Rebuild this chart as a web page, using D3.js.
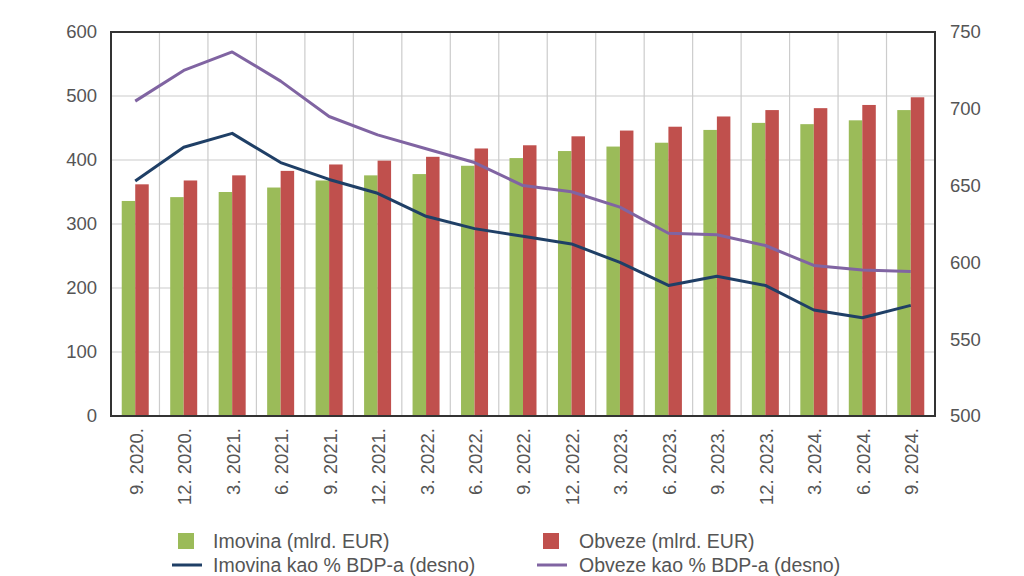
<!DOCTYPE html>
<html>
<head>
<meta charset="utf-8">
<script src="https://cdn.jsdelivr.net/npm/d3@7"></script>
<style>
  html, body { margin: 0; padding: 0; background: #fff; }
  svg { display: block; font-family: "Liberation Sans", Arial, sans-serif; }
</style>
</head>
<body>
<svg id="chart" width="1024" height="576"></svg>
<script>
const categories = ["9. 2020.", "12. 2020.", "3. 2021.", "6. 2021.", "9. 2021.", "12. 2021.",
  "3. 2022.", "6. 2022.", "9. 2022.", "12. 2022.", "3. 2023.", "6. 2023.", "9. 2023.",
  "12. 2023.", "3. 2024.", "6. 2024.", "9. 2024."];
const imovina = [336, 342, 350, 357, 368, 376, 378, 391, 403, 414, 421, 427, 447, 458, 456, 462, 478];
const obveze  = [362, 368, 376, 383, 393, 399, 405, 418, 423, 437, 446, 452, 468, 478, 481, 486, 498];
const imovinaPct = [653, 675, 684, 665, 654, 645, 630, 622, 617, 612, 600, 585, 591, 585, 569, 564, 572];
const obvezePct  = [705, 725, 737, 718, 695, 683, 674, 665, 650, 646, 636, 619, 618, 611, 598, 595, 594];
const leftTicks = [0, 100, 200, 300, 400, 500, 600];
const rightTicks = [500, 550, 600, 650, 700, 750];
const legendItems = [
  {label: "Imovina (mlrd. EUR)", type: "rect", color: "#9bbb59"},
  {label: "Obveze (mlrd. EUR)", type: "rect", color: "#c0504d"},
  {label: "Imovina kao % BDP-a (desno)", type: "line", color: "#1f3f66"},
  {label: "Obveze kao % BDP-a (desno)", type: "line", color: "#8064a2"}
];

const svg = d3.select("#chart");
const L = 111, R = 935, T = 32, B = 416;

const x = d3.scaleBand().domain(categories).range([L, R]).paddingInner(0).paddingOuter(0);
const yL = d3.scaleLinear().domain([0, 600]).range([B, T]);
const yR = d3.scaleLinear().domain([500, 750]).range([B, T]);

const textColor = "#555555";

// grid
const grid = svg.append("g");
grid.selectAll("line.h").data(leftTicks.slice(1, -1)).join("line")
  .attr("x1", L).attr("x2", R).attr("y1", d => yL(d)).attr("y2", d => yL(d))
  .attr("stroke", "#cccccc").attr("stroke-width", 1.2);
grid.selectAll("line.v").data(categories.slice(1)).join("line")
  .attr("x1", d => x(d)).attr("x2", d => x(d)).attr("y1", T).attr("y2", B)
  .attr("stroke", "#cccccc").attr("stroke-width", 1.2);

// bars
const bw = 13.5;
const bars = svg.append("g");
bars.selectAll("rect.g").data(categories).join("rect")
  .attr("x", d => x(d) + x.bandwidth() / 2 - bw)
  .attr("width", bw)
  .attr("y", (d, i) => yL(imovina[i]))
  .attr("height", (d, i) => B - yL(imovina[i]))
  .attr("fill", "#9bbb59");
bars.selectAll("rect.r").data(categories).join("rect")
  .attr("x", d => x(d) + x.bandwidth() / 2)
  .attr("width", bw)
  .attr("y", (d, i) => yL(obveze[i]))
  .attr("height", (d, i) => B - yL(obveze[i]))
  .attr("fill", "#c0504d");

// lines
const line = arr => d3.line()
  .x((d, i) => x(categories[i]) + x.bandwidth() / 2)
  .y(d => yR(d))(arr);
svg.append("path").attr("d", line(obvezePct)).attr("fill", "none")
  .attr("stroke", "#8064a2").attr("stroke-width", 3).attr("stroke-linejoin", "round");
svg.append("path").attr("d", line(imovinaPct)).attr("fill", "none")
  .attr("stroke", "#1f3f66").attr("stroke-width", 3).attr("stroke-linejoin", "round");

// frame
svg.append("rect").attr("x", L).attr("y", T).attr("width", R - L).attr("height", B - T)
  .attr("fill", "none").attr("stroke", "#333333").attr("stroke-width", 2);

// left axis labels
svg.append("g").selectAll("text").data(leftTicks).join("text")
  .attr("x", 97).attr("y", d => yL(d)).attr("dy", "0.35em")
  .attr("text-anchor", "end").attr("font-size", 18.5).attr("fill", textColor)
  .text(d => d);

// right axis labels
svg.append("g").selectAll("text").data(rightTicks).join("text")
  .attr("x", 950).attr("y", d => yR(d)).attr("dy", "0.35em")
  .attr("text-anchor", "start").attr("font-size", 18.5).attr("fill", textColor)
  .text(d => d);

// x labels
svg.append("g").selectAll("text").data(categories).join("text")
  .attr("transform", d => `translate(${x(d) + x.bandwidth() / 2 + 1},428) rotate(-90)`)
  .attr("text-anchor", "end").attr("dy", "0.35em")
  .attr("font-size", 18.5).attr("fill", textColor)
  .text(d => d);

// legend
const legPos = [
  {x: 178, y: 541, tx: 213}, {x: 543, y: 541, tx: 579},
  {x: 172, y: 565, tx: 213}, {x: 537, y: 565, tx: 579}
];
const leg = svg.append("g");
legendItems.forEach((it, i) => {
  const p = legPos[i];
  if (it.type === "rect") {
    leg.append("rect").attr("x", p.x).attr("y", p.y - 8).attr("width", 16).attr("height", 16).attr("fill", it.color);
  } else {
    leg.append("line").attr("x1", p.x).attr("x2", p.x + 30).attr("y1", p.y).attr("y2", p.y)
      .attr("stroke", it.color).attr("stroke-width", 3);
  }
  leg.append("text").attr("x", p.tx).attr("y", p.y).attr("dy", "0.35em")
    .attr("font-size", 19.5).attr("fill", textColor).text(it.label);
});
</script>
</body>
</html>
